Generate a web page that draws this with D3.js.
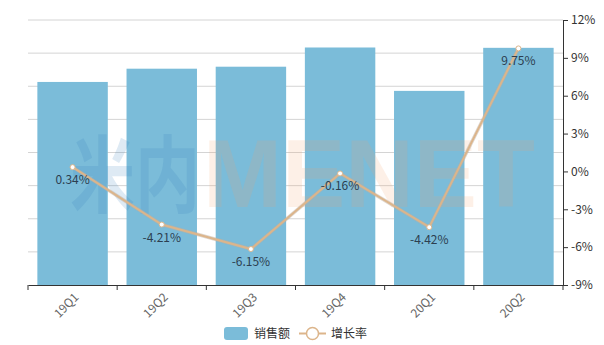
<!DOCTYPE html>
<html>
<head>
<meta charset="utf-8">
<script src="https://cdn.jsdelivr.net/npm/d3@7"></script>
<style>
  body { margin: 0; background: #fff; }
  text { font-family: "Noto Sans CJK SC", "Noto Sans", sans-serif; }
</style>
</head>
<body>
<svg id="chart" width="604" height="345"></svg>
<script>
// quarters, sales (left axis, hidden labels) and YoY growth in %
const quarters = ["19Q1", "19Q2", "19Q3", "19Q4", "20Q1", "20Q2"];
const sales = [61.3, 65.3, 65.9, 71.7, 58.6, 71.6];
const growth = [0.34, -4.21, -6.15, -0.16, -4.42, 9.75];
const rightTicks = [-9, -6, -3, 0, 3, 6, 9, 12];

const svg = d3.select("#chart");
const mLeft = 28, mRight = 563, mTop = 20, mBottom = 285;

const x = d3.scaleBand().domain(quarters).range([mLeft, mRight]).paddingInner(0.21).paddingOuter(0.105);
const xb = d3.scaleBand().domain(quarters).range([mLeft, mRight]);
const ySales = d3.scaleLinear().domain([0, 80]).range([mBottom, mTop]);
const yRate = d3.scaleLinear().domain([-9, 12]).range([mBottom, mTop]);

// grid from the left (sales) axis
svg.append("g").selectAll("line").data(ySales.ticks(8).filter(d => d > 0)).join("line")
  .attr("x1", mLeft).attr("x2", mRight)
  .attr("y1", d => ySales(d)).attr("y2", d => ySales(d))
  .attr("stroke", "#d4d4d4").attr("stroke-width", 1);

// bars
svg.append("g").selectAll("rect").data(sales).join("rect")
  .attr("x", (d, i) => x(quarters[i]))
  .attr("width", x.bandwidth())
  .attr("y", d => ySales(d))
  .attr("height", d => mBottom - ySales(d))
  .attr("fill", "#7bbcd9");

// watermark
const wm = svg.append("g").attr("pointer-events", "none");
wm.append("text").text("米内")
  .attr("x", 70).attr("y", 206)
  .attr("textLength", 130).attr("lengthAdjust", "spacingAndGlyphs")
  .style("font-size", "84px").style("font-weight", "bold")
  .attr("fill", "#2f7fb8").attr("fill-opacity", 0.16);
wm.append("text").text("MENET")
  .attr("x", 203).attr("y", 207)
  .attr("textLength", 332).attr("lengthAdjust", "spacingAndGlyphs")
  .style("font-family", "'Liberation Sans', Arial, sans-serif")
  .style("font-size", "97px").style("font-weight", "bold")
  .attr("fill", "#f3a36b").attr("fill-opacity", 0.16);

// x axis
const xAxis = svg.append("g").attr("transform", `translate(0,${mBottom})`)
  .call(d3.axisBottom(xb).tickSize(0).tickFormat(""));
xAxis.select(".domain").attr("stroke", "#333");
svg.append("g").selectAll("line").data(d3.range(quarters.length + 1)).join("line")
  .attr("x1", i => mLeft + i * xb.step()).attr("x2", i => mLeft + i * xb.step())
  .attr("y1", mBottom).attr("y2", mBottom + 5)
  .attr("stroke", "#333");
svg.append("g").selectAll("text").data(quarters).join("text")
  .attr("transform", d => `translate(${xb(d) + xb.bandwidth() / 2 + 4},${mBottom + 10}) rotate(-45)`)
  .attr("text-anchor", "end")
  .attr("dy", "0.35em")
  .style("font-size", "12px")
  .attr("fill", "#666")
  .text(d => d);

// right axis
const yAxis = svg.append("g").attr("transform", `translate(${mRight},0)`)
  .call(d3.axisRight(yRate).tickValues(rightTicks).tickSize(5).tickPadding(3).tickFormat(d => d + "%"));
yAxis.select(".domain").attr("stroke", "#333");
yAxis.selectAll(".tick line").attr("stroke", "#333");
yAxis.selectAll(".tick text").style("font-size", "12px").attr("fill", "#333")
  .style("font-family", "'Noto Sans CJK SC', sans-serif");

// growth line
const cx = (d, i) => xb(quarters[i]) + xb.bandwidth() / 2;
const line = d3.line().x(cx).y(d => yRate(d));
svg.append("path").datum(growth)
  .attr("d", line)
  .attr("fill", "none")
  .attr("stroke", "#bfb0a0").attr("stroke-opacity", 0.5)
  .attr("stroke-width", 3.5);
svg.append("path").datum(growth)
  .attr("d", line)
  .attr("fill", "none")
  .attr("stroke", "#dcb58b")
  .attr("stroke-width", 2);
svg.append("g").selectAll("circle").data(growth).join("circle")
  .attr("cx", cx).attr("cy", d => yRate(d)).attr("r", 2.5)
  .attr("fill", "#fff").attr("stroke", "#dcb58b").attr("stroke-width", 1);
svg.append("g").selectAll("text").data(growth).join("text")
  .attr("x", cx).attr("y", d => yRate(d) + 17)
  .attr("text-anchor", "middle")
  .style("font-size", "12px")
  .attr("fill", "#2c3e50")
  .text(d => d.toFixed(2) + "%");

// legend
const lg = svg.append("g");
lg.append("rect").attr("x", 224).attr("y", 327).attr("width", 24).attr("height", 13).attr("rx", 3)
  .attr("fill", "#7bbcd9");
lg.append("text").attr("x", 254).attr("y", 334).attr("dy", "0.35em")
  .style("font-size", "12px").attr("fill", "#333").text("销售额");
lg.append("line").attr("x1", 299).attr("x2", 326).attr("y1", 333.5).attr("y2", 333.5)
  .attr("stroke", "#dcb58b").attr("stroke-width", 2);
lg.append("circle").attr("cx", 312.5).attr("cy", 333.5).attr("r", 6)
  .attr("fill", "#fff").attr("stroke", "#dcb58b").attr("stroke-width", 1.5);
lg.append("text").attr("x", 331).attr("y", 334).attr("dy", "0.35em")
  .style("font-size", "12px").attr("fill", "#333").text("增长率");
</script>
</body>
</html>
